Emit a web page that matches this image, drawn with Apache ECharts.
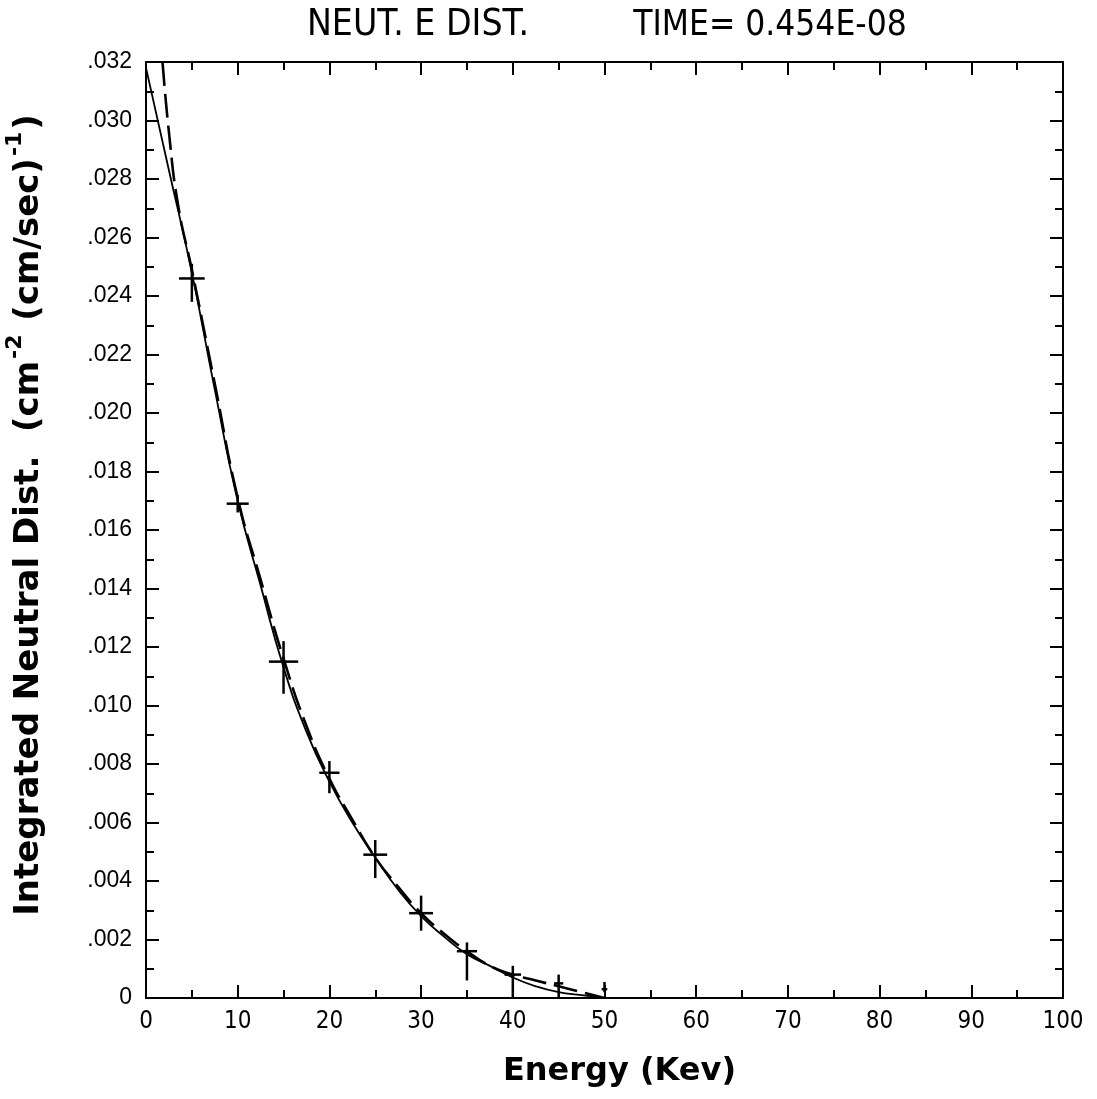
<!DOCTYPE html>
<html><head><meta charset="utf-8">
<script src="https://cdn.jsdelivr.net/npm/echarts@6/dist/echarts.min.js"></script>
<style>html,body{margin:0;padding:0;background:#fff}#c{width:1097px;height:1099px}</style>
</head><body><div id="c"></div>
<script>
// Solid curve
var solidX = [0, 2.5, 5, 7.5, 10, 12.5, 15, 17.5, 20, 22.5, 25, 27.5, 30, 32.5, 35, 37.5, 40, 42.5, 45, 47.5, 50];
var solidY = [0.0318, 0.0283, 0.0248, 0.0208, 0.0170, 0.0141, 0.0113, 0.0091, 0.0074, 0.0060, 0.0048, 0.0037, 0.0028, 0.0021, 0.0015, 0.0011, 0.0007, 0.0004, 0.0002, 0.0001, 0.0];
// Dashed curve
var dashX = [1.8, 2.5, 3.5, 5, 7.5, 10, 12.5, 15, 17.5, 20, 22.5, 25, 27.5, 30, 32.5, 35, 37.5, 40, 42.5, 45, 47.5, 50];
var dashY = [0.0320, 0.0296, 0.0271, 0.0249, 0.0210, 0.0171, 0.0143, 0.0116, 0.0093, 0.0075, 0.0061, 0.0048, 0.0038, 0.0029, 0.0022, 0.0016, 0.0011, 0.0008, 0.0006, 0.0004, 0.0002, 0.0];
// Data points with error bars
var crossX    = [5, 10, 15, 20, 25, 30, 35, 40, 45, 50];
var crossY    = [0.0246, 0.0169, 0.0115, 0.0077, 0.0049, 0.0029, 0.0016, 0.0008, 0.0005, 0.0003];
var crossXErr = [1.4, 1.2, 1.6, 1.1, 1.3, 1.3, 1.1, 0.9, 0.5, 0.3];
var crossYLow = [0.0238, 0.0166, 0.0104, 0.0070, 0.0041, 0.0023, 0.0006, 0.0, 0.0, 0.0002];
var crossYHigh= [0.0251, 0.0172, 0.0122, 0.0081, 0.0054, 0.0035, 0.0019, 0.0011, 0.0008, 0.00055];
var titleLeft = 'NEUT. E DIST.';
var titleRight = 'TIME= 0.454E-08';
var xName = 'Energy (Kev)';
var yName = '{m|Integrated Neutral Dist.  (cm}{s|-2}{m| (cm/sec)}{s|-1}{m|)}';

function zip(a, b) { return a.map(function (v, i) { return [v, b[i]]; }); }
var crossData = crossX.map(function (x, i) { return [x, crossY[i], crossXErr[i], crossYLow[i], crossYHigh[i]]; });

var narrow = '"DejaVu Sans Condensed", "Liberation Sans Narrow", sans-serif';
var axisLine = { show: true, onZero: false, lineStyle: { color: '#000', width: 2 } };
var tick = { show: true, inside: true, length: 13, lineStyle: { color: '#000', width: 2 } };
var minor = { show: true, splitNumber: 2, length: 8, lineStyle: { color: '#000', width: 2 } };

var chart = echarts.init(document.getElementById('c'));
chart.setOption({
  animation: false,
  backgroundColor: '#fff',
  title: [{
    text: titleLeft, left: 413, top: 2, textAlign: 'center',
    textStyle: { fontFamily: narrow, fontWeight: 'normal', fontSize: 37, color: '#000' }
  }, {
    text: titleRight, left: 765, top: 3, textAlign: 'center',
    textStyle: { fontFamily: narrow, fontWeight: 'normal', fontSize: 35, color: '#000' }
  }],
  grid: { left: 146, right: 34, top: 62, bottom: 101, containLabel: false, outerBoundsMode: 'none' },
  xAxis: [{
    type: 'value', min: 0, max: 100, interval: 10, position: 'bottom',
    name: xName, nameLocation: 'middle', nameGap: 58,
    nameTextStyle: { fontFamily: '"DejaVu Sans", sans-serif', fontWeight: 'bold', fontSize: 32, color: '#000', padding: [0, 0, 0, 30] },
    axisLine: axisLine, axisTick: tick, minorTick: minor,
    splitLine: { show: false },
    axisLabel: { margin: 12, fontFamily: narrow, fontSize: 24, color: '#000' }
  }, {
    type: 'value', min: 0, max: 100, interval: 10, position: 'top',
    axisLine: axisLine, axisTick: tick, minorTick: minor,
    splitLine: { show: false }, axisLabel: { show: false }
  }],
  yAxis: [{
    type: 'value', min: 0, max: 0.032, interval: 0.002, position: 'left',
    name: yName, nameLocation: 'middle', nameGap: 100,
    nameTextStyle: {
      color: '#000', padding: [0, 0, 0, 30],
      rich: {
        m: { fontFamily: '"DejaVu Sans", sans-serif', fontWeight: 'bold', fontSize: 34, color: '#000', lineHeight: 42, verticalAlign: 'bottom' },
        s: { fontFamily: '"DejaVu Sans", sans-serif', fontWeight: 'bold', fontSize: 22, color: '#000', lineHeight: 42, verticalAlign: 'top', padding: [0, 2, 0, 2] }
      }
    },
    axisLine: axisLine, axisTick: tick, minorTick: minor,
    splitLine: { show: false },
    axisLabel: {
      margin: 14, fontFamily: '"Liberation Sans", Arial, sans-serif', fontSize: 23, color: '#000',
      formatter: function (v) {
        if (Math.abs(v) < 1e-9) return '0';
        var n = Math.round(v * 1000);
        return '.' + (n < 10 ? '00' : (n < 100 ? '0' : '')) + n;
      }
    }
  }, {
    type: 'value', min: 0, max: 0.032, interval: 0.002, position: 'right',
    axisLine: axisLine, axisTick: tick, minorTick: minor,
    splitLine: { show: false }, axisLabel: { show: false }
  }],
  series: [{
    type: 'line', data: zip(solidX, solidY), smooth: true, symbol: 'none',
    lineStyle: { color: '#000', width: 1.8 }, z: 3
  }, {
    type: 'line', data: zip(dashX, dashY), smooth: true, symbol: 'none',
    lineStyle: { color: '#000', width: 2.6, type: [24, 8] }, z: 3
  }, {
    type: 'custom', data: crossData, z: 4,
    renderItem: function (params, api) {
      var x = api.value(0), y = api.value(1), dx = api.value(2), lo = api.value(3), hi = api.value(4);
      var l = api.coord([x - dx, y]), r = api.coord([x + dx, y]);
      var t = api.coord([x, hi]), b = api.coord([x, lo]);
      var st = { stroke: '#000', lineWidth: 2.5 };
      return { type: 'group', children: [
        { type: 'line', shape: { x1: l[0], y1: l[1], x2: r[0], y2: r[1] }, style: st },
        { type: 'line', shape: { x1: t[0], y1: t[1], x2: b[0], y2: b[1] }, style: st }
      ] };
    }
  }]
});
</script></body></html>
